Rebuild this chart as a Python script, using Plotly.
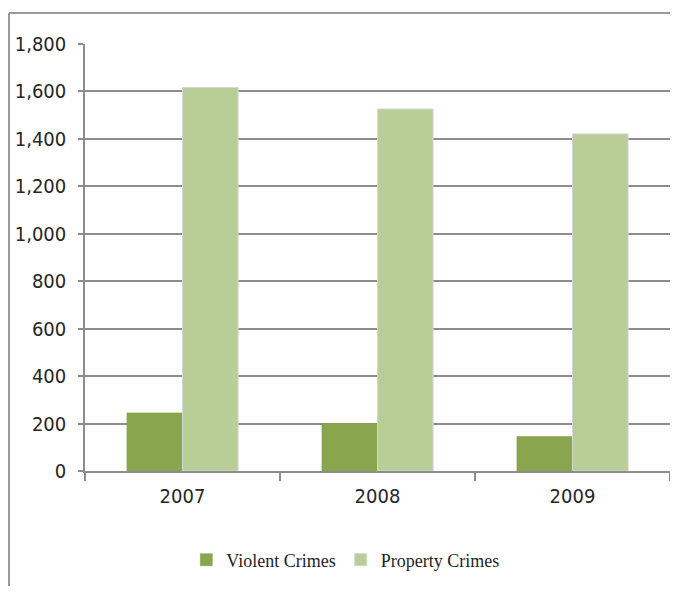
import plotly.graph_objects as go

years = ["2007", "2008", "2009"]
violent = [245, 200, 145]
property_crimes = [1617, 1526, 1421]
series_names = ["Violent Crimes", "Property Crimes"]
y_ticks = [0, 200, 400, 600, 800, 1000, 1200, 1400, 1600, 1800]

# page body has an 8px margin; figure sized to fit the 678x594 window
OFF = 8
W, H = 678 - 2 * OFF, 594 - 2 * OFF
PL, PR, PT, PB = 85, 670, 44, 471   # plot area in page pixels
L, T = PL - OFF, PT - OFF
R = W - (PR - OFF)
B = H - (PB - OFF)
pw, ph = PR - PL, PB - PT

def px(x):
    return (x - PL) / pw

def py(y):
    return (PB - y) / ph

tick_font = dict(family="DejaVu Sans Condensed, sans-serif", size=20, color="#262626")

fig = go.Figure()
fig.add_trace(go.Bar(x=years, y=violent, name=series_names[0],
                     marker=dict(color="#89A54E", line=dict(color="#7d9a45", width=0.5))))
fig.add_trace(go.Bar(x=years, y=property_crimes, name=series_names[1],
                     marker=dict(color="#B9CD96", line=dict(color="#d6d6d6", width=1))))

grid = "#8c8c8c"
fig.update_layout(
    width=W, height=H,
    margin=dict(l=L, r=R, t=T, b=B, pad=0),
    paper_bgcolor="white", plot_bgcolor="white",
    barmode="group", bargap=0.43, bargroupgap=0,
    showlegend=True,
    legend=dict(orientation="h", x=0.445, xanchor="center",
                y=py(560), yanchor="middle",
                font=dict(family="Liberation Serif, serif", size=18, color="#1f1f1f"),
                tracegroupgap=0),
    xaxis=dict(
        type="category", showgrid=False, showline=True, linecolor=grid, linewidth=1.5,
        ticks="outside", tickson="boundaries", ticklen=8, tickcolor=grid, tickwidth=1.5,
        tickfont=tick_font, ticklabelstandoff=6,
    ),
    yaxis=dict(
        range=[0, 1800], tickvals=y_ticks, tickformat=",",
        showgrid=True, gridcolor=grid, gridwidth=1.5,
        showline=True, linecolor=grid, linewidth=1.5,
        zeroline=False,
        ticks="outside", ticklen=5, tickcolor=grid, tickwidth=1.5,
        tickfont=tick_font, ticklabelstandoff=8,
    ),
    shapes=[
        dict(type="line", xref="paper", yref="paper", x0=px(9), x1=px(678), y0=py(13), y1=py(13),
             line=dict(color="#9a9a9a", width=2)),
        dict(type="line", xref="paper", yref="paper", x0=px(9), x1=px(9), y0=py(13), y1=py(600),
             line=dict(color="#9a9a9a", width=2)),
    ],
)

fig.write_html("out.html")
